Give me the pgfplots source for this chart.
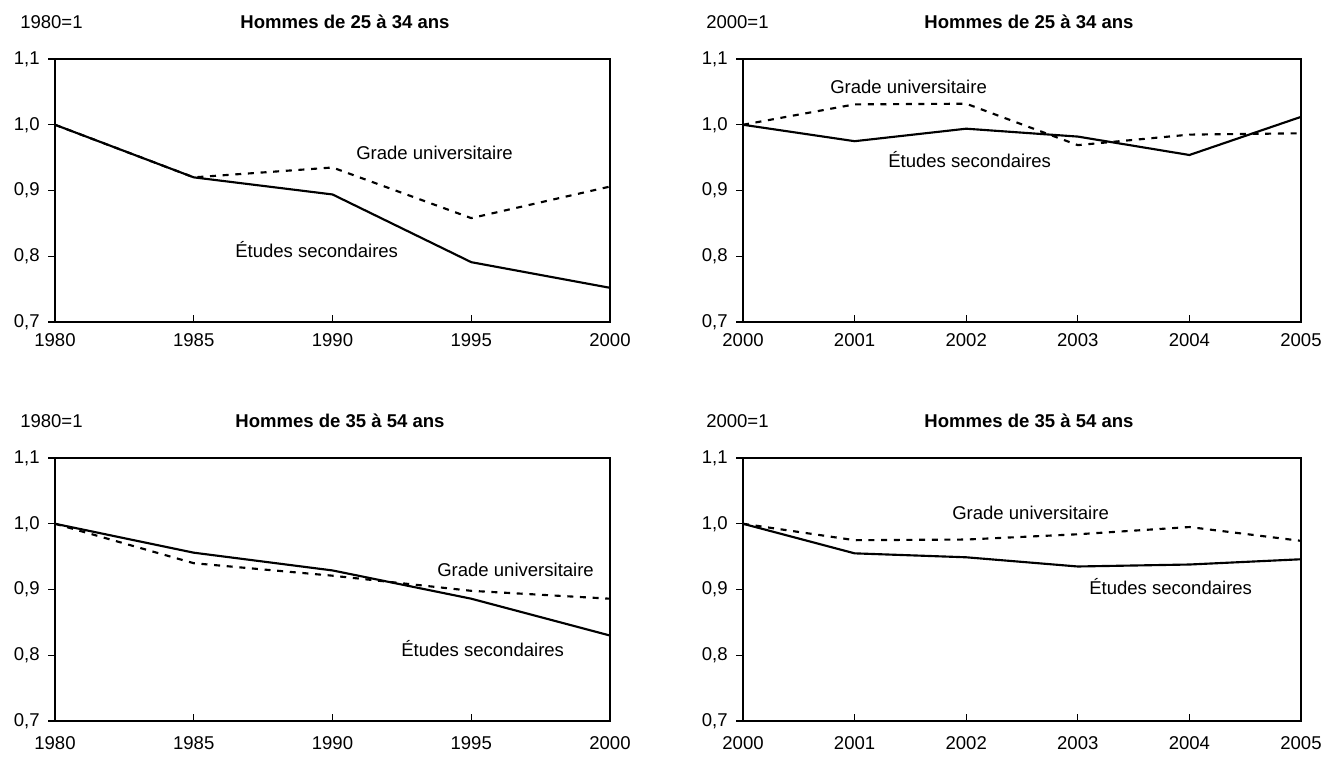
\documentclass[border=0pt]{standalone}
\usepackage{fontspec}
\setmainfont{Liberation Sans}
\usepackage{pgfplots}
\pgfplotsset{compat=1.18}
\newcommand\ft{\fontsize{13.9pt}{16pt}\selectfont}
\pgfplotsset{
  panel/.style={
    scale only axis,
    anchor=north west,
    height=197.25pt,
    ymin=0.7, ymax=1.1,
    ytick={0.7,0.8,0.9,1.0,1.1},
    yticklabels={{0,7},{0,8},{0,9},{1,0},{1,1}},
    xtick pos=bottom, ytick pos=left,
    tick align=inside,
    major tick length=5pt,
    major tick style={black, line width=0.9pt},
    y tick style={xshift=-5pt},
    axis line style={line width=1.6pt},
    every tick label/.append style={font=\ft, text=black},
    yticklabel style={xshift=-8pt},
    clip=false,
  },
  es/.style={black, line width=1.6pt, no marks},
  gu/.style={black, line width=1.6pt, no marks, dash pattern=on 4.5pt off 5pt},
}
\begin{document}
\begin{tikzpicture}[x=1pt,y=1pt]
% top-left
\begin{axis}[panel, at={(41.25pt,-44.25pt)}, width=416.25pt,
  xticklabel style={yshift=-5pt},
  xmin=1980, xmax=2000, xtick={1980,1985,1990,1995,2000},
  xticklabels={1980,1985,1990,1995,2000}]
\addplot[gu] coordinates {(1980,1.0) (1985,0.920) (1990,0.935) (1995,0.858) (2000,0.906)};
\addplot[es] coordinates {(1980,1.0) (1985,0.920) (1990,0.894) (1995,0.791) (2000,0.752)};
\end{axis}
% top-right
\begin{axis}[panel, at={(557.25pt,-44.25pt)}, width=418.5pt,
  xticklabel style={yshift=-5pt},
  xmin=2000, xmax=2005, xtick={2000,2001,2002,2003,2004,2005},
  xticklabels={2000,2001,2002,2003,2004,2005}]
\addplot[gu] coordinates {(2000,1.0) (2001,1.031) (2002,1.032) (2003,0.969) (2004,0.985) (2005,0.987)};
\addplot[es] coordinates {(2000,1.0) (2001,0.975) (2002,0.994) (2003,0.982) (2004,0.954) (2005,1.012)};
\end{axis}
% bottom-left
\begin{axis}[panel, at={(41.25pt,-343.5pt)}, width=416.25pt,
  xticklabel style={yshift=-8pt},
  xmin=1980, xmax=2000, xtick={1980,1985,1990,1995,2000},
  xticklabels={1980,1985,1990,1995,2000}]
\addplot[gu] coordinates {(1980,1.0) (1985,0.940) (1990,0.921) (1995,0.898) (2000,0.886)};
\addplot[es] coordinates {(1980,1.0) (1985,0.956) (1990,0.929) (1995,0.886) (2000,0.830)};
\end{axis}
% bottom-right
\begin{axis}[panel, at={(557.25pt,-343.5pt)}, width=418.5pt,
  xticklabel style={yshift=-8pt},
  xmin=2000, xmax=2005, xtick={2000,2001,2002,2003,2004,2005},
  xticklabels={2000,2001,2002,2003,2004,2005}]
\addplot[gu] coordinates {(2000,1.0) (2001,0.975) (2002,0.976) (2003,0.984) (2004,0.995) (2005,0.974)};
\addplot[es] coordinates {(2000,1.0) (2001,0.955) (2002,0.949) (2003,0.935) (2004,0.938) (2005,0.946)};
\end{axis}
% headers
\begin{scope}[every node/.style={font=\ft, inner sep=0pt}]
\node[anchor=west] at (15pt,-16.5pt) {1980=1};
\node[font=\ft\bfseries] at (258.75pt,-16.5pt) {Hommes de 25 à 34 ans};
\node[anchor=west] at (529.5pt,-16.5pt) {2000=1};
\node[font=\ft\bfseries] at (771.75pt,-16.5pt) {Hommes de 25 à 34 ans};
\node[anchor=west] at (15pt,-315.5pt) {1980=1};
\node[font=\ft\bfseries] at (255pt,-315.5pt) {Hommes de 35 à 54 ans};
\node[anchor=west] at (529.5pt,-315.5pt) {2000=1};
\node[font=\ft\bfseries] at (771.75pt,-315.5pt) {Hommes de 35 à 54 ans};
% series labels
\node[anchor=west] at (267pt,-114.75pt) {Grade universitaire};
\node[anchor=west] at (176.25pt,-187.5pt) {Études secondaires};
\node[anchor=west] at (622.5pt,-65.25pt) {Grade universitaire};
\node[anchor=west] at (666pt,-120pt) {Études secondaires};
\node[anchor=west] at (327.75pt,-427.5pt) {Grade universitaire};
\node[anchor=west] at (300.75pt,-486.75pt) {Études secondaires};
\node[anchor=west] at (714pt,-384.75pt) {Grade universitaire};
\node[anchor=west] at (816.75pt,-440.25pt) {Études secondaires};
\end{scope}
\pgfresetboundingbox
\useasboundingbox (0,0) rectangle (991.5pt,-570.75pt);
\end{tikzpicture}
\end{document}
